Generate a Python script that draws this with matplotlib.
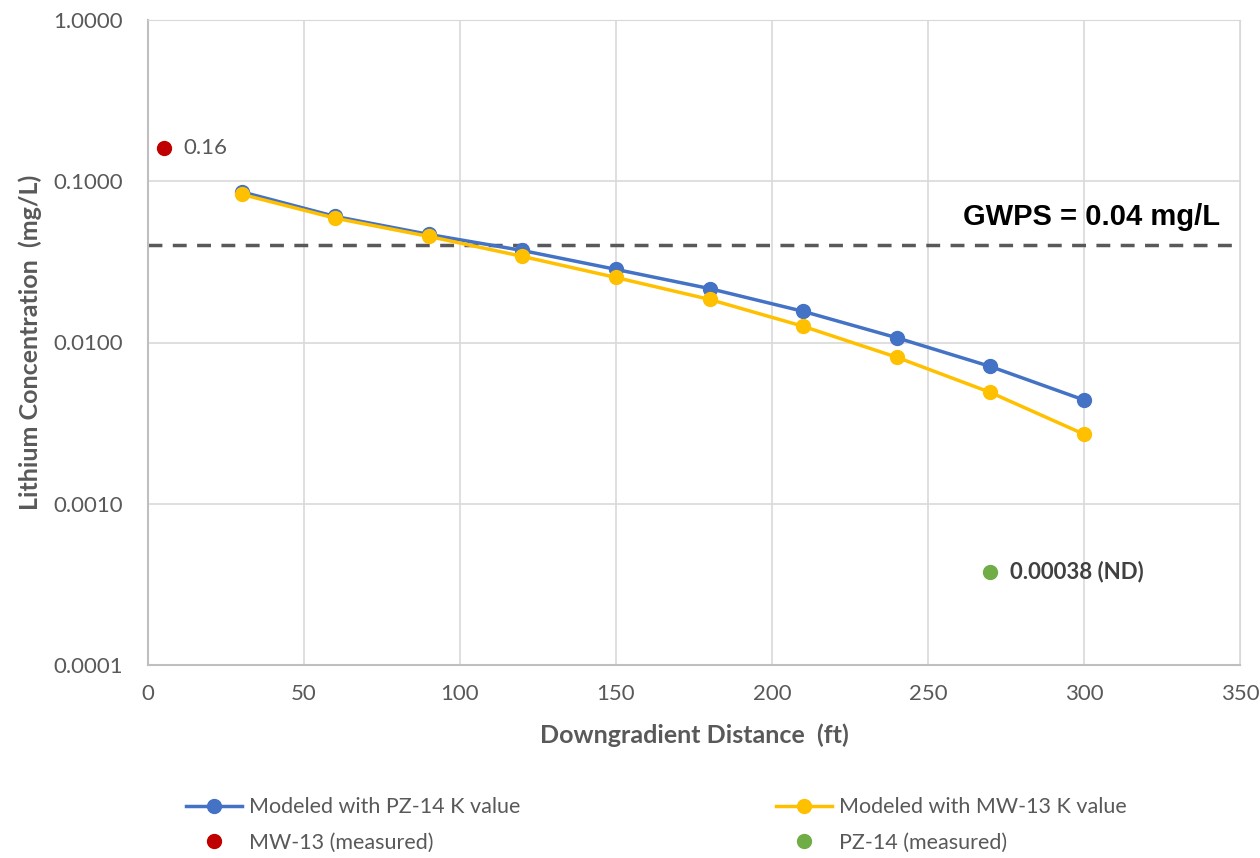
import matplotlib.pyplot as plt
from matplotlib.ticker import FixedLocator, FixedFormatter

distance = [30, 60, 90, 120, 150, 180, 210, 240, 270, 300]
pz14_model = [0.086, 0.0605, 0.0468, 0.0372, 0.0284, 0.0216, 0.0156, 0.0107, 0.0071, 0.0044]
mw13_model = [0.083, 0.059, 0.0455, 0.0342, 0.0253, 0.0185, 0.0126, 0.0081, 0.0049, 0.0027]

mw13_x = [5]
mw13_val = [0.16]
pz14_x = [270]
pz14_val = [0.00038]

gwps = 0.04
y_ticks = [0.0001, 0.001, 0.01, 0.1, 1.0]
y_labels = ["0.0001", "0.0010", "0.0100", "0.1000", "1.0000"]
x_ticks = [0, 50, 100, 150, 200, 250, 300, 350]

blue = "#4472C4"
gold = "#FFC000"
red = "#C00000"
green = "#70AD47"
txt = "#595959"

plt.rcParams['font.family'] = ['Lato', 'DejaVu Sans']

fig = plt.figure(figsize=(12.6, 8.58), dpi=100)
ax = fig.add_axes([148 / 1260, 1 - 665 / 858, (1240 - 148) / 1260, (665 - 20) / 858])

l1, = ax.plot(distance, pz14_model, color=blue, lw=2.5, marker="o", ms=10, label="Modeled with PZ-14 K value", zorder=3)
l2, = ax.plot(distance, mw13_model, color=gold, lw=2.5, marker="o", ms=10, label="Modeled with MW-13 K value", zorder=4)
p1, = ax.plot(mw13_x, mw13_val, ls="none", marker="o", ms=10, color=red, label="MW-13 (measured)", zorder=5)
p2, = ax.plot(pz14_x, pz14_val, ls="none", marker="o", ms=10, color=green, label="PZ-14 (measured)", zorder=5)

ax.axhline(gwps, color="#595959", lw=2.5, ls=(0, (4, 3)), zorder=2)
ax.text(1220 / 1260, 1 - 217 / 858, "GWPS = 0.04 mg/L", transform=fig.transFigure,
        ha="right", va="center", fontsize=21, fontweight="bold", family="Liberation Sans")

ax.annotate("0.16", (mw13_x[0], mw13_val[0]), xytext=(14, 0), textcoords="offset points",
            va="center", ha="left", fontsize=16, color=txt)
ax.annotate("0.00038 (ND)", (pz14_x[0], pz14_val[0]), xytext=(14, 0), textcoords="offset points",
            va="center", ha="left", fontsize=16, color="#404040", fontweight="bold")

ax.set_yscale("log")
ax.set_ylim(0.0001, 1.0)
ax.set_xlim(0, 350)
ax.yaxis.set_major_locator(FixedLocator(y_ticks))
ax.yaxis.set_major_formatter(FixedFormatter(y_labels))
ax.yaxis.set_minor_locator(FixedLocator([]))
ax.set_xticks(x_ticks)
ax.tick_params(length=0, labelsize=16, labelcolor=txt)
ax.tick_params(axis="x", pad=14)
ax.tick_params(axis="y", pad=18)

ax.grid(True, color="#D9D9D9", lw=1.2, zorder=0)
ax.set_axisbelow(True)
for side in ["top", "right"]:
    ax.spines[side].set_color("#D9D9D9")
for side in ["left", "bottom"]:
    ax.spines[side].set_color("#BFBFBF")
    ax.spines[side].set_linewidth(1.5)

ax.set_xlabel("Downgradient Distance  (ft)", fontsize=18, fontweight="bold", color=txt, labelpad=14)
ax.set_ylabel("Lithium Concentration  (mg/L)", fontsize=18, fontweight="bold", color=txt, labelpad=8)

fig.legend([l1, p1, l2, p2],
           [l1.get_label(), p1.get_label(), l2.get_label(), p2.get_label()],
           loc="center left", bbox_to_anchor=(167 / 1260, 1 - 825 / 858),
           ncol=2, frameon=False, fontsize=15.5, labelcolor=txt, columnspacing=11.9,
           handlelength=2.6, handletextpad=0.3, labelspacing=0.7)

fig.savefig("out.png", dpi=100)
